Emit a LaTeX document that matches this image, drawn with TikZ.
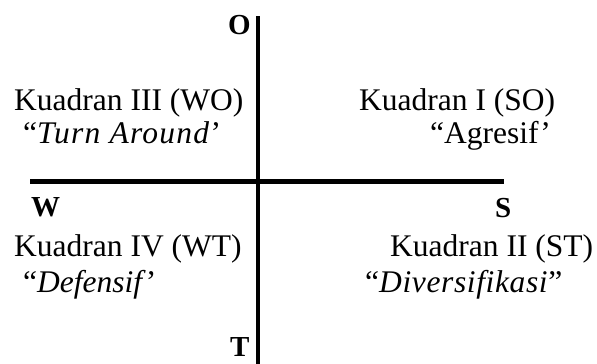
\documentclass[tikz,border=0pt]{standalone}
\usepackage{fontspec}
\setmainfont{Liberation Serif}
\begin{document}
\begin{tikzpicture}[x=1pt,y=-1pt,
  lbl/.style={anchor=base west,inner sep=0pt,font=\fontsize{31.5}{36}\selectfont},
  axlbl/.style={anchor=base west,inner sep=0pt,font=\fontsize{29}{33}\selectfont\bfseries},
  axis/.style={line width=4.2pt,black}]
\useasboundingbox (0,0) rectangle (597,364);
\coordinate (vtop) at (258,16);
\coordinate (vbot) at (258,364);
\coordinate (hl) at (30,181.5);
\coordinate (hr) at (504,181.5);
\draw[axis] (vtop) -- (vbot);
\draw[axis] (hl) -- (hr);
\node[axlbl] (O) at (228,34) {O};
\node[axlbl] (T) at (230,356) {T};
\node[axlbl] (W) at (31,216) {W};
\node[axlbl] (S) at (495,217) {S};
\node[lbl] (q3) at (14,110) {Kuadran III (WO)};
\node[lbl] (q3b) at (23,143) {“\textit{\addfontfeature{LetterSpace=4}Turn Around}’};
\node[lbl] (q1) at (359,110) {Kuadran I (SO)};
\node[lbl] (q1b) at (430,143) {“Agresif’};
\node[lbl] (q4) at (14,256) {Kuadran IV (WT)};
\node[lbl] (q4b) at (23,292) {“\textit{Defensif}’};
\node[lbl] (q2) at (390,256) {Kuadran II (ST)};
\node[lbl] (q2b) at (365,292) {“\textit{\addfontfeature{LetterSpace=2}Diversifikasi}”};
\end{tikzpicture}
\end{document}
